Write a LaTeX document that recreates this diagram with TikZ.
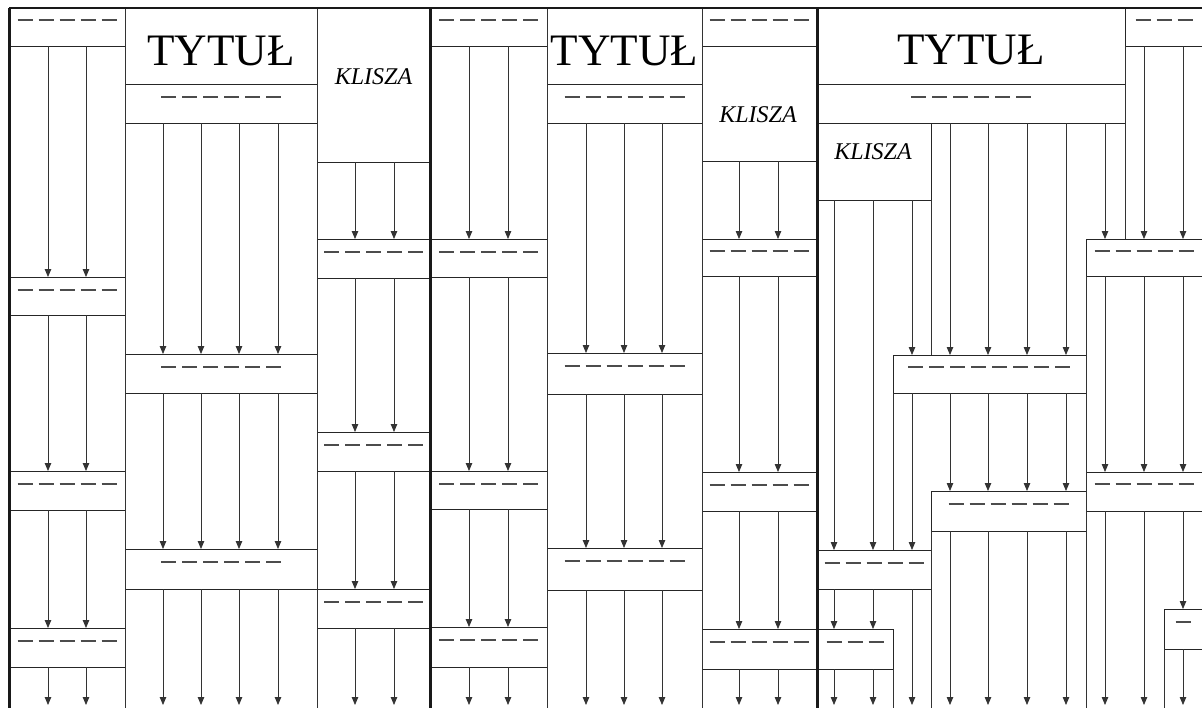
\documentclass[tikz,border=0pt]{standalone}
\usepackage{fontspec}
\setmainfont{Liberation Serif}
\usetikzlibrary{arrows.meta}
\tikzset{
  bx/.style={draw=black!85, line width=0.9pt, inner sep=0pt, outer sep=0pt, anchor=north west},
  arr/.style={draw=black!80, line width=0.8pt, -{Triangle[length=8pt,width=6.5pt]}},
  ln/.style={draw=black!80, line width=0.8pt},
  dsh/.style={draw=black!70, line width=1.1pt, dash pattern=on 15pt off 6pt},
  sep/.style={draw=black!90, line width=3pt},
  ttl/.style={font=\fontsize{45}{45}\selectfont, anchor=base, inner sep=0pt},
  kl/.style={font=\itshape\fontsize{24}{24}\selectfont, anchor=base, inner sep=0pt}
}
\newcommand{\bx}[5]{\node[bx, minimum width={(#4-#2)*1pt}, minimum height={(#5-#3)*1pt}] (#1) at (#2,#3) {};}
\newcommand{\dr}[3]{\pgfmathsetmacro{\dw}{#3*15+(#3-1)*6}\draw[dsh] ({#1-\dw/2},#2) -- ++(\dw pt,0);}
\newcommand{\ar}[3]{\draw[arr] (#1.south -| x#3) -- (#2.north -| x#3);}
\newcommand{\arb}[2]{\draw[arr] (#1.south -| x#2) -- (bot -| x#2);}
\begin{document}
\begin{tikzpicture}[x=1pt,y=-1pt]
\clip (0,0) rectangle (1202,707);
\fill[white] (0,0) rectangle (1202,707);
\foreach \c in {48,86,163,201,239,278,355,394,469,508,586,624,662,739,778,834,873,893,912,931,950,988,1027,1066,1086,1105,1125,1144,1164,1183}
  {\coordinate (x\c) at (\c,0);}
\coordinate (bot) at (0,705);
\coordinate (botl) at (0,710);
% ---------------- page 1 ----------------
\bx{p1a0}{9}{8}{125}{46}
\bx{p1a1}{9}{277}{125}{315}
\bx{p1a2}{9}{471}{125}{510}
\bx{p1a3}{9}{628}{125}{667}
\bx{p1t}{125}{8}{317}{84}
\bx{p1s}{125}{84}{317}{123}
\bx{p1b1}{125}{354}{317}{393}
\bx{p1b2}{125}{549}{317}{589}
\bx{p1k}{317}{8}{430}{162}
\bx{p1c1}{317}{239}{430}{278}
\bx{p1c2}{317}{432}{430}{471}
\bx{p1c3}{317}{589}{430}{628}
\node[ttl] (t1) at (221,65) {TYTUŁ};
\node[kl] (k1) at (373.5,84) {KLISZA};
\draw[ln] (p1t.north west) -- (p1t.north west |- botl);
\draw[ln] (p1k.north west) -- (p1k.north west |- botl);
\foreach \c in {48,86}{\ar{p1a0}{p1a1}{\c}\ar{p1a1}{p1a2}{\c}\ar{p1a2}{p1a3}{\c}\arb{p1a3}{\c}}
\foreach \c in {163,201,239,278}{\ar{p1s}{p1b1}{\c}\ar{p1b1}{p1b2}{\c}\arb{p1b2}{\c}}
\foreach \c in {355,394}{\ar{p1k}{p1c1}{\c}\ar{p1c1}{p1c2}{\c}\ar{p1c2}{p1c3}{\c}\arb{p1c3}{\c}}
\dr{67}{20}{5}\dr{67}{290}{5}\dr{67}{484}{5}\dr{67}{641}{5}
\dr{221}{97}{6}\dr{221}{367}{6}\dr{221}{562}{6}
\dr{373.5}{252}{5}\dr{373.5}{445}{5}\dr{373.5}{602}{5}
% ---------------- page 2 ----------------
\bx{p2a0}{430}{8}{547}{46}
\bx{p2a1}{430}{239}{547}{277}
\bx{p2a2}{430}{471}{547}{509}
\bx{p2a3}{430}{627}{547}{667}
\bx{p2t}{547}{8}{702}{84}
\bx{p2s}{547}{84}{702}{123}
\bx{p2b1}{547}{353}{702}{394}
\bx{p2b2}{547}{548}{702}{590}
\bx{p2c0}{702}{8}{816}{46}
\bx{p2k}{702}{46}{816}{161}
\bx{p2c1}{702}{239}{816}{276}
\bx{p2c2}{702}{472}{816}{511}
\bx{p2c3}{702}{629}{816}{669}
\node[ttl] (t2) at (624.5,65) {TYTUŁ};
\node[kl] (k2) at (758,122) {KLISZA};
\draw[ln] (p2t.north west) -- (p2t.north west |- botl);
\draw[ln] (p2c0.north west) -- (p2c0.north west |- botl);
\foreach \c in {469,508}{\ar{p2a0}{p2a1}{\c}\ar{p2a1}{p2a2}{\c}\ar{p2a2}{p2a3}{\c}\arb{p2a3}{\c}}
\foreach \c in {586,624,662}{\ar{p2s}{p2b1}{\c}\ar{p2b1}{p2b2}{\c}\arb{p2b2}{\c}}
\foreach \c in {739,778}{\ar{p2k}{p2c1}{\c}\ar{p2c1}{p2c2}{\c}\ar{p2c2}{p2c3}{\c}\arb{p2c3}{\c}}
\dr{488.5}{20}{5}\dr{488.5}{252}{5}\dr{488.5}{484}{5}\dr{488.5}{640}{5}
\dr{624.5}{97}{6}\dr{624.5}{366}{6}\dr{624.5}{561}{6}
\dr{759}{20}{5}\dr{759}{251}{5}\dr{759}{485}{5}\dr{759}{642}{5}
% ---------------- page 3 ----------------
\bx{p3t}{817}{8}{1125}{84}
\bx{p3s}{817}{84}{1125}{123}
\bx{p3k}{817}{123}{931}{200}
\bx{p3e1}{893}{355}{1086}{393}
\bx{p3e2}{931}{491}{1086}{531}
\bx{p3k1}{817}{550}{931}{589}
\bx{p3k2}{817}{629}{893}{669}
\bx{p3d0}{1125}{8}{1240}{46}
\bx{p3d1}{1086}{239}{1240}{276}
\bx{p3d2}{1086}{472}{1240}{511}
\bx{p3d3}{1164}{609}{1240}{649}
\node[ttl] (t3) at (971,64) {TYTUŁ};
\node[kl] (k3) at (873,159) {KLISZA};
\foreach \c in {834,873}{\ar{p3k}{p3k1}{\c}\ar{p3k1}{p3k2}{\c}\arb{p3k2}{\c}}
\ar{p3k}{p3e1}{912}\ar{p3e1}{p3k1}{912}\arb{p3k1}{912}
\foreach \c in {950,988,1027,1066}{\ar{p3s}{p3e1}{\c}\ar{p3e1}{p3e2}{\c}\arb{p3e2}{\c}}
\ar{p3s}{p3d1}{1105}\ar{p3d1}{p3d2}{1105}\arb{p3d2}{1105}
\ar{p3d0}{p3d1}{1144}\ar{p3d1}{p3d2}{1144}\arb{p3d2}{1144}
\ar{p3d0}{p3d1}{1183}\ar{p3d1}{p3d2}{1183}\ar{p3d2}{p3d3}{1183}\arb{p3d3}{1183}
\draw[ln] (p3k.south east) -- (p3e1.north -| x931);
\draw[ln] (p3e2.south west) -- (p3e2.south west |- botl);
\draw[ln] (p3e1.south west) -- (p3k1.north -| x893);
\draw[ln] (p3k2.south east) -- (p3k2.south east |- botl);
\draw[ln] (p3d1.south west) -- (p3d1.south west |- botl);
\draw[ln] (p3d0.south west) -- (p3d1.north -| x1125);
\draw[ln] (p3d3.south west) -- (p3d3.south west |- botl);
\dr{971}{97}{6}\dr{989}{367}{8}\dr{1008.5}{504}{6}
\dr{874}{563}{5}\dr{855}{642}{3}
\dr{1164}{20}{3}\dr{1144}{251}{5}\dr{1144}{484}{5}\dr{1183}{622}{1}
% ---------------- frame ----------------
\draw[draw=black!90, line width=2pt] (p1a0.north west) -- (p1a0.north west -| 1210,0);
\draw[sep] (p1a0.north west) -- (p1a0.north west |- botl);
\draw[sep] (p2a0.north west) -- (p2a0.north west |- botl);
\draw[sep] (p3t.north west) -- (p3t.north west |- botl);
\end{tikzpicture}
\end{document}
